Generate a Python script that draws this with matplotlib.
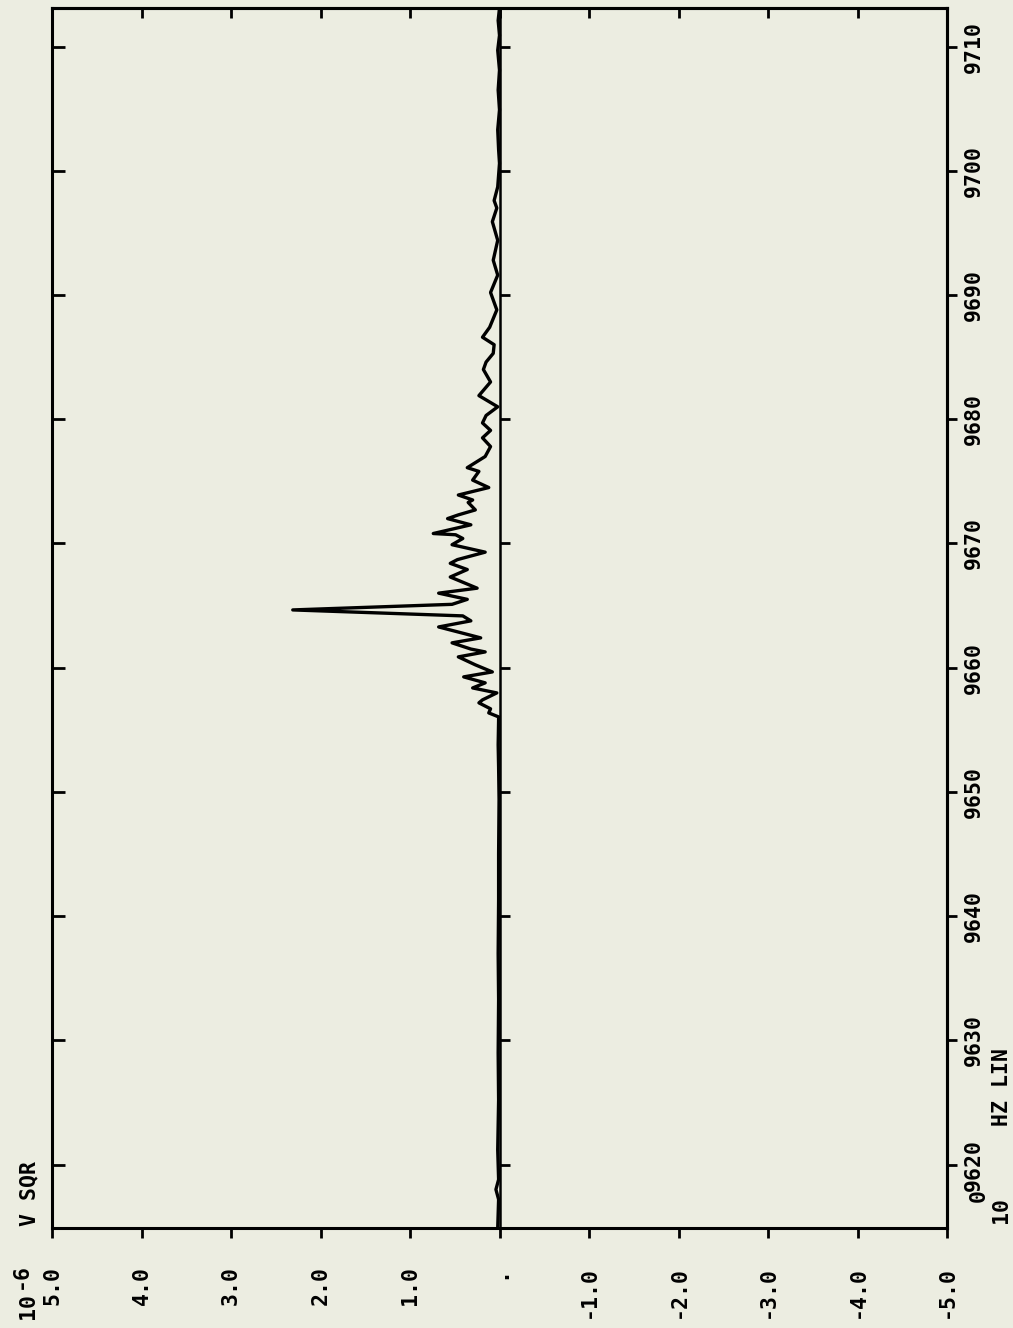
import numpy as np
import matplotlib.pyplot as plt
from matplotlib.markers import TICKRIGHT

# spectrum: frequency (Hz) and power (10^-6 V^2)
freq_hz = [9614.9, 9617.2, 9618.0, 9618.8, 9621.2, 9625.2, 9629.0, 9633.3, 9637.0,
           9641.3, 9645.0, 9649.4, 9652.0, 9653.8, 9655.8, 9656.04, 9656.36, 9656.69,
           9657.17, 9657.41, 9657.97, 9658.37, 9658.78, 9659.26, 9659.66, 9660.23,
           9660.87, 9661.27, 9661.5, 9662.0, 9662.4, 9662.72, 9663.28, 9663.77,
           9664.17, 9664.65, 9665.1, 9665.5, 9666.0, 9666.4, 9667.3, 9667.9, 9668.4,
           9668.7, 9669.3, 9669.9, 9670.4, 9670.7, 9670.8, 9671.5, 9672.0, 9672.3,
           9672.7, 9673.3, 9673.5, 9673.9, 9674.5, 9675.1, 9675.8, 9676.1, 9677.0,
           9677.8, 9678.5, 9679.1, 9679.7, 9680.3, 9681.0, 9681.9, 9683.0, 9684.0,
           9684.6, 9685.3, 9686.0, 9686.6, 9687.4, 9688.8, 9690.2, 9691.6, 9692.8,
           9694.4, 9695.9, 9697.0, 9697.6, 9698.7, 9700.6, 9701.7, 9703.3, 9704.9,
           9706.5, 9708.1, 9709.7, 9710.9, 9712.1, 9713.1]
power = [0.02, 0.01, 0.04, 0.01, 0.02, 0.01, 0.015, 0.01, 0.015,
         0.01, 0.01, 0.005, 0.01, 0.015, 0.01, 0.01, 0.12, 0.10,
         0.23, 0.19, 0.03, 0.30, 0.16, 0.40, 0.08, 0.27,
         0.46, 0.16, 0.32, 0.53, 0.21, 0.38, 0.68, 0.32,
         0.41, 2.31, 0.53, 0.36, 0.68, 0.25, 0.55, 0.36, 0.55,
         0.47, 0.16, 0.53, 0.41, 0.49, 0.74, 0.32, 0.58, 0.46,
         0.27, 0.35, 0.30, 0.46, 0.12, 0.30, 0.23, 0.36, 0.16,
         0.10, 0.19, 0.10, 0.19, 0.15, 0.02, 0.23, 0.10, 0.18,
         0.15, 0.07, 0.06, 0.19, 0.11, 0.03, 0.10, 0.02, 0.07,
         0.02, 0.08, 0.03, 0.06, 0.02, 0.00, 0.01, 0.02, 0.00,
         0.015, 0.00, 0.02, 0.00, 0.015, 0.00]

p_ticks = [5, 4, 3, 2, 1, 0, -1, -2, -3, -4, -5]
p_labels = ["5.0", "4.0", "3.0", "2.0", "1.0", ".", "-1.0", "-2.0", "-3.0", "-4.0", "-5.0"]
f_ticks = [9620, 9630, 9640, 9650, 9660, 9670, 9680, 9690, 9700, 9710]
f_labels = [str(f) for f in f_ticks]

paper = "#ecede1"
mono = "DejaVu Sans Mono"
fs = 15.5
W, H = 1013, 1328

fig = plt.figure(figsize=(W / 100, H / 100), dpi=100, facecolor=paper)
ax = fig.add_axes([52 / W, 100 / H, 895 / W, 1220 / H])
ax.set_facecolor(paper)
ax.set_xlim(5, -5)
ax.set_ylim(9614.9, 9713.1)
for s in ax.spines.values():
    s.set_linewidth(2.2)

ax.set_xticks(p_ticks, p_labels, rotation=90, fontfamily=mono, fontsize=fs,
              fontweight="bold")
ax.tick_params(axis="x", direction="out", length=7.5, width=2, pad=20)
ax.set_yticks(f_ticks)
ax.tick_params(axis="y", direction="in", length=9, width=2, labelleft=False)

top = ax.secondary_xaxis("top")
top.set_xticks(p_ticks)
top.tick_params(direction="in", length=7.5, width=2, labeltop=False)
top.spines["top"].set_linewidth(2.2)

right = ax.secondary_yaxis("right")
right.set_yticks(f_ticks, f_labels, rotation=90, fontfamily=mono, fontsize=fs,
                 fontweight="bold", va="center")
right.tick_params(direction="out", length=7.5, width=2, pad=5)
right.spines["right"].set_linewidth(2.2)

# zero line with its own tick marks
ax.axvline(0, color="k", lw=1.8)
ax.plot(np.zeros(len(f_ticks)), f_ticks, ls="none", marker=TICKRIGHT, ms=7.5, mew=2, color="k")

ax.plot(power, freq_hz, color="k", lw=2.4, solid_joinstyle="round")


def put(x, y, s):
    fig.text(x / W, 1 - y / H, s, rotation=90, ha="center", va="center",
             fontfamily=mono, fontsize=fs, fontweight="bold")


put(1002, 1087, "HZ LIN")
put(1001, 1210, "10")
put(979, 1196, "0")
put(29, 1194, "V SQR")
put(28, 1306, "10")
put(21, 1276, "-6")

fig.savefig("out.png", dpi=100, facecolor=paper)
